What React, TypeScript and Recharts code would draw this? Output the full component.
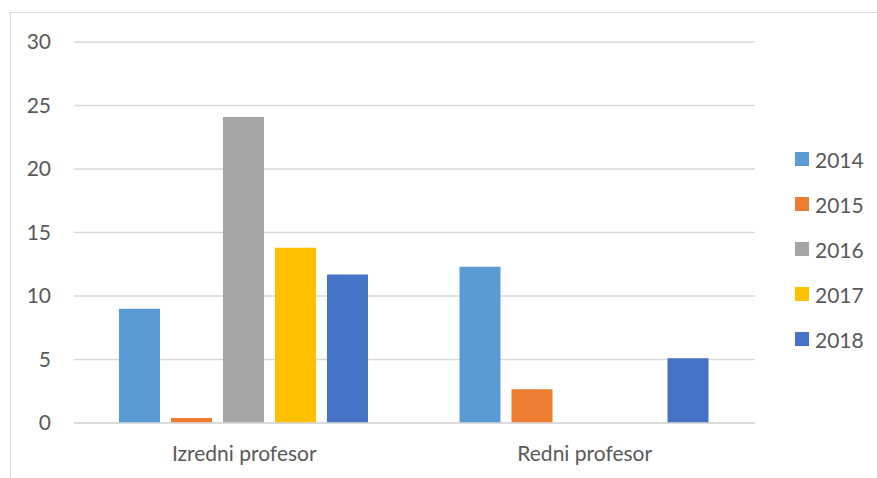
import React from "react";
import { BarChart, Bar, XAxis, YAxis, CartesianGrid } from "recharts";

const categories = ["Izredni profesor", "Redni profesor"];
const years = ["2014", "2015", "2016", "2017", "2018"];
const v2014 = [9.0, 12.3];
const v2015 = [0.4, 2.65];
const v2016 = [24.1, 0];
const v2017 = [13.8, 0];
const v2018 = [11.7, 5.1];
const yTicks = [0, 5, 10, 15, 20, 25, 30];

const COLORS: Record<string, string> = {
  "2014": "#5b9bd5",
  "2015": "#ed7d31",
  "2016": "#a5a5a5",
  "2017": "#ffc000",
  "2018": "#4472c4",
};

const FONT = "Lato, 'Open Sans', sans-serif";
const TEXT = "#595959";

const data = categories.map((name, i) => ({
  name,
  "2014": v2014[i],
  "2015": v2015[i],
  "2016": v2016[i],
  "2017": v2017[i],
  "2018": v2018[i],
}));

export default function App() {
  return (
    <div
      style={{
        position: "absolute",
        left: 0,
        top: 0,
        width: 877,
        height: 478,
        overflow: "hidden",
        background: "#fff",
        fontFamily: FONT,
      }}
    >
      {/* chart area border */}
      <div
        style={{
          position: "absolute",
          left: 10,
          top: 12,
          width: 900,
          height: 500,
          border: "1px solid #d9d9d9",
        }}
      />
      <BarChart
        width={877}
        height={478}
        data={data}
        margin={{ top: 42, right: 122, bottom: 25, left: 10 }}
        barCategoryGap={45}
        barGap={11}
        style={{ position: "absolute", left: 0, top: 0 }}
      >
        <CartesianGrid vertical={false} stroke="#d9d9d9" strokeWidth={1.5} />
        <XAxis
          dataKey="name"
          height={30}
          tickLine={false}
          tickSize={0}
          tickMargin={23}
          axisLine={{ stroke: "#d9d9d9", strokeWidth: 1.5 }}
          tick={{ fill: TEXT, fontSize: 21, fontFamily: FONT }}
        />
        <YAxis
          width={64}
          domain={[0, 30]}
          ticks={yTicks}
          interval={0}
          axisLine={false}
          tickLine={false}
          tickSize={0}
          tickMargin={23}
          tick={{ fill: TEXT, fontSize: 21, fontFamily: FONT }}
        />
        {years.map((y) => (
          <Bar key={y} dataKey={y} fill={COLORS[y]} isAnimationActive={false} />
        ))}
      </BarChart>
      {/* legend */}
      {years.map((y, i) => (
        <div
          key={y}
          style={{
            position: "absolute",
            left: 795,
            top: 159 + i * 45 - 13,
            height: 26,
            display: "flex",
            alignItems: "center",
            color: TEXT,
            fontSize: 21,
          }}
        >
          <span
            style={{
              display: "inline-block",
              width: 14,
              height: 14,
              background: COLORS[y],
              marginRight: 6,
            }}
          />
          {y}
        </div>
      ))}
    </div>
  );
}
